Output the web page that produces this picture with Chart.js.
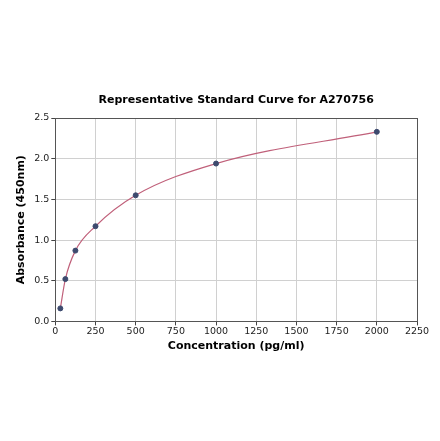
<!DOCTYPE html>
<html><head><meta charset="utf-8">
<script src="https://cdn.jsdelivr.net/npm/chart.js@4"></script>
<style>html,body{margin:0;padding:0;background:#fff}#wrap{width:440px;height:441px}</style>
</head><body><div id="wrap"><canvas id="c"></canvas></div>
<script>
const concentrations = [31.25, 62.5, 125, 250, 500, 1000, 2000];
const absorbances = [0.16, 0.52, 0.87, 1.17, 1.55, 1.94, 2.33];
const xTicks = [0, 250, 500, 750, 1000, 1250, 1500, 1750, 2000, 2250];
const yTicks = [0.0, 0.5, 1.0, 1.5, 2.0, 2.5];
const titleText = 'Representative Standard Curve for A270756';
const xTitle = 'Concentration (pg/ml)';
const yTitle = 'Absorbance (450nm)';

const pts = concentrations.map((x, i) => ({x: x, y: absorbances[i]}));
const font = 'DejaVu Sans';

const frame = {
  id: 'frame',
  afterDatasetsDraw(chart) {
    const a = chart.chartArea, ctx = chart.ctx;
    ctx.save();
    ctx.strokeStyle = '#555';
    ctx.lineWidth = 1;
    ctx.strokeRect(Math.round(a.left) + 0.5, Math.round(a.top) + 0.5, Math.round(a.right - a.left), Math.round(a.bottom - a.top));
    ctx.fillStyle = '#000';
    ctx.font = 'bold 11px "DejaVu Sans"';
    ctx.textAlign = 'center';
    ctx.textBaseline = 'middle';
    ctx.fillText(titleText, (a.left + a.right) / 2, a.top - 18);
    ctx.restore();
  }
};

new Chart(document.getElementById('c'), {
  type: 'scatter',
  data: {
    datasets: [
      {data: pts, showLine: true, pointRadius: 0, borderColor: '#c0607a', borderWidth: 1.2, cubicInterpolationMode: 'monotone', order: 2},
      {data: pts, showLine: false, pointRadius: 2.5, backgroundColor: '#3d4a6e', borderColor: '#3d4a6e', order: 1}
    ]
  },
  options: {
    responsive: true, maintainAspectRatio: false, animation: false,
    layout: {padding: {left: 11, right: 23, top: 118, bottom: 84}},
    plugins: {
      legend: {display: false}, tooltip: {enabled: false}, title: {display: false}
    },
    scales: {
      x: {
        type: 'linear', min: 0, max: 2250,
        afterBuildTicks: s => { s.ticks = xTicks.map(v => ({value: v})); },
        ticks: {color: '#222', font: {family: font, size: 9.5}, padding: 0, maxRotation: 0, callback: v => String(v)},
        grid: {color: '#d0d0d0', tickColor: '#444', tickLength: 4},
        border: {color: '#555'},
        title: {display: true, text: xTitle, color: '#000', font: {family: font, size: 11, weight: 'bold'}, padding: {top: 3}}
      },
      y: {
        type: 'linear', min: 0, max: 2.5,
        afterBuildTicks: s => { s.ticks = yTicks.map(v => ({value: v})); },
        ticks: {color: '#222', font: {family: font, size: 9.5}, padding: 2, callback: v => Number(v).toFixed(1)},
        grid: {color: '#d0d0d0', tickColor: '#444', tickLength: 4},
        border: {color: '#555'},
        title: {display: true, text: yTitle, color: '#000', font: {family: font, size: 11, weight: 'bold'}, padding: {bottom: 4}}
      }
    }
  },
  plugins: [frame]
});
</script></body></html>
